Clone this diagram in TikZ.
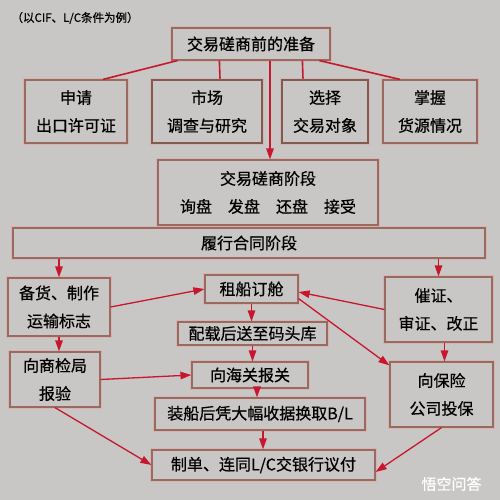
\documentclass[tikz,border=0pt]{standalone}
\usepackage{fontspec}
\setmainfont{Noto Sans CJK SC}[FakeBold=0.6]
\newfontfamily\notefont{Liberation Serif}
\usetikzlibrary{arrows.meta}

\definecolor{paper}{HTML}{C9C7C6}
\definecolor{frame}{HTML}{9A6A60}
\definecolor{glow}{HTML}{DDAAA3}
\definecolor{arrowred}{HTML}{C8172C}

\begin{document}
\begin{tikzpicture}[x=1pt,y=-1pt]
\tikzstyle{block} = [rectangle, draw=frame, line width=1.2pt, fill=paper,
preaction={draw=glow, line width=4.5pt, opacity=0.6},
align=center, inner sep=0pt, font=\fontsize{16}{28}\selectfont]
\tikzstyle{block_bold} = [block, line width=2.6pt, draw=frame!85!black]
\tikzstyle{link} = [draw, arrowred, line width=1.6pt];
\tikzstyle{line} = [draw, arrowred, line width=1.3pt, -{Triangle[length=11pt,width=7.5pt]}];

\fill[paper] (0,0) rectangle (500,500);

\node[anchor=west, font=\fontsize{11.5}{13}\selectfont] (note) at (8,18) {（以CIF、L/C条件为例）};
\node[text=white, anchor=west, font=\fontsize{15}{15}\selectfont] (mark) at (418,484) {悟空问答};

% row 1
\node [block, minimum width=158, minimum height=32] (prep) at (251,44) {交易磋商前的准备};
% row 2
\node [block, minimum width=102, minimum height=63] (license) at (76,111.5) {申请\\出口许可证};
\node [block_bold, minimum width=110, minimum height=63] (market) at (207,111.5) {市场\\调查与研究};
\node [block_bold, minimum width=86, minimum height=63] (partner) at (325,111.5) {选择\\交易对象};
\node [block, minimum width=94, minimum height=63] (supply) at (430,111.5) {掌握\\货源情况};
% row 3
\node [block, minimum width=220, minimum height=65] (nego) at (268,192.5) {交易磋商阶段\\询盘\hspace{1em}发盘\hspace{1em}还盘\hspace{1em}接受};
\node [block, minimum width=472, minimum height=30] (perform) at (249,243) {履行合同阶段};
% row 4
\node [block, minimum width=102, minimum height=58] (stock) at (59,307) {备货、制作\\运输标志};
\node [block, minimum width=93, minimum height=28] (ship) at (251.5,289) {租船订舱};
\node [block, minimum width=107, minimum height=65] (urge) at (438.5,309.5) {催证、\\审证、改正};
\node [block, minimum width=149, minimum height=23] (stow) at (252.5,333.5) {配载后送至码头库};
% row 5
\node [block, minimum width=90, minimum height=55] (inspect) at (55,379.5) {向商检局\\报验};
\node [block, minimum width=116, minimum height=26] (customs) at (250,375) {向海关报关};
\node [block, minimum width=103, minimum height=65] (insure) at (441.5,394.5) {向保险\\公司投保};
% row 6
\node [block, minimum width=210, minimum height=32] (bl) at (260,414) {装船后凭大幅收据换取B/L};
\node [block, minimum width=223, minimum height=30] (docs) at (263.5,465) {制单、连同L/C交银行议付};

\path[link] ([xshift=6pt]prep.south west) -- ([xshift=27pt]license.north);
\path[link] ([xshift=48pt]prep.south west) -- ([xshift=13pt]market.north);
\path[link] ([xshift=131pt]prep.south west) -- ([xshift=-22pt]partner.north);
\path[link] ([xshift=148pt]prep.south west) -- ([xshift=-30pt]supply.north);

\tikzstyle{every path}=[line]
\path ([xshift=19pt]prep.south) -- ([xshift=19pt]prep.south |- nego.north);
\path (stock.north |- perform.south) -- (stock.north);
\path (urge.north |- perform.south) -- (urge.north);
\path (stock.east) -- (ship.west);
\path (urge.west) -- ([yshift=-3pt]ship.east);
\path ([yshift=5pt]ship.south east) -- ([yshift=-4pt]insure.north west);
\path (ship.south) -- (ship.south |- stow.north);
\path (stow.south) -- (stow.south |- customs.north);
\path (stock.south) -- (stock.south |- inspect.north);
\path ([xshift=6pt]urge.south) -- ([xshift=6pt]urge.south |- insure.north);
\path (inspect.east) -- (customs.west);
\path ([xshift=7pt]customs.south) -- ([xshift=7pt]customs.south |- bl.north);
\path ([xshift=3pt]bl.south) -- ([xshift=3pt]bl.south |- docs.north);
\path (inspect.south) -- (docs.west);
\path (insure.south) -- ([yshift=-7pt]docs.east);

\end{tikzpicture}
\end{document}
